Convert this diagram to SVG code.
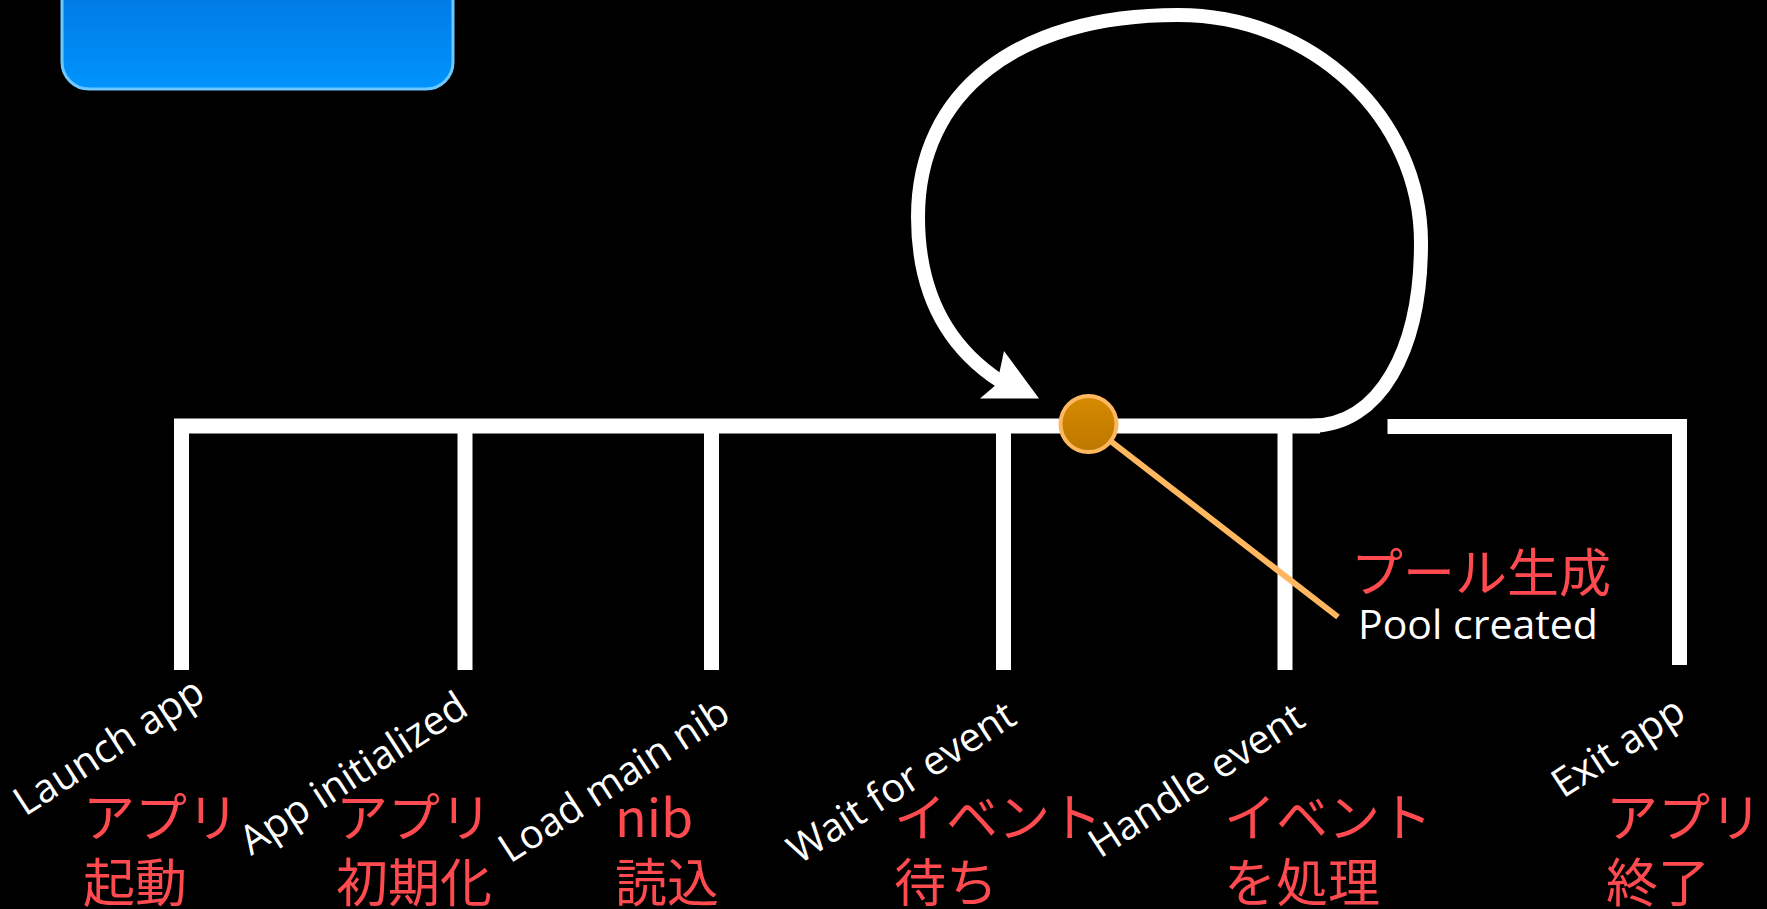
<svg xmlns="http://www.w3.org/2000/svg" width="1767" height="909" viewBox="0 0 1767 909">
  <defs>
    <linearGradient id="boxGrad" x1="0" y1="0" x2="0" y2="1">
      <stop offset="0" stop-color="#0070dc"/>
      <stop offset="1" stop-color="#0094fc"/>
    </linearGradient>
    <linearGradient id="dotGrad" x1="0" y1="0" x2="0" y2="1">
      <stop offset="0" stop-color="#d68a00"/>
      <stop offset="1" stop-color="#bd7800"/>
    </linearGradient>
    <style>
      .wline { fill: none; stroke: #ffffff; stroke-width: 15; stroke-linecap: butt; stroke-linejoin: miter; }
      .loop { fill: none; stroke: #ffffff; stroke-width: 14; stroke-linecap: butt; stroke-linejoin: round; }
      .step { font-family: "Open Sans", "Noto Sans", sans-serif; font-size: 40px; fill: #ffffff; }
      .ja { font-family: "Noto Sans CJK JP", "Noto Sans", sans-serif; font-size: 52px; fill: #ff4b50; }
      .note { font-family: "Open Sans", "Noto Sans", sans-serif; font-size: 41px; fill: #ffffff; }
    </style>
  </defs>

  <rect width="1767" height="909" fill="#000000"/>

  <g id="title-box">
    <rect x="62" y="-40" width="391" height="129" rx="27" ry="27" fill="url(#boxGrad)" stroke="#6cc8ff" stroke-width="3"/>
  </g>

  <g id="timeline">
    <path class="wline" d="M174,426 L1320,426"/>
    <path class="wline" d="M181.5,426 L181.5,670"/>
    <path class="wline" d="M465,426 L465,670"/>
    <path class="wline" d="M711.5,426 L711.5,670"/>
    <path class="wline" d="M1003.5,426 L1003.5,670"/>
    <path class="wline" d="M1285,426 L1285,670"/>
    <path class="wline" d="M1387.5,426.5 L1679.5,426.5 L1679.5,665"/>
  </g>

  <g id="connectors">
    <path id="event-loop" class="loop" d="M1310,426 C1380,426 1421,350 1421,243 C1421,117 1312,15 1178,15 C1017,15 918,92 918,217 C918,290 945,345 1000,381"/>
    <path id="loop-arrowhead" d="M1004,351 L1039,398.5 L980,398.5 L997,384 Z" fill="#ffffff"/>
    <line id="pool-leader" x1="1088.5" y1="424" x2="1338" y2="617" stroke="#ffb860" stroke-width="6"/>
  </g>

  <g id="pool-marker">
    <circle cx="1088.5" cy="424" r="28" fill="url(#dotGrad)" stroke="#ffb860" stroke-width="4"/>
  </g>

  <g id="pool-label">
    <text class="ja" x="1351" y="592">プール生成</text>
    <text class="note" x="1358" y="639">Pool created</text>
  </g>

  <g id="step-launch">
    <text class="step" transform="translate(25,817) rotate(-33)">Launch app</text>
    <text class="ja" x="83" y="837">アプリ</text>
    <text class="ja" x="83" y="902">起動</text>
  </g>
  <g id="step-init">
    <text class="step" transform="translate(251,856) rotate(-33)">App initialized</text>
    <text class="ja" x="336" y="837">アプリ</text>
    <text class="ja" x="336" y="902">初期化</text>
  </g>
  <g id="step-nib">
    <text class="step" transform="translate(510,864) rotate(-33)">Load main nib</text>
    <text class="ja" x="615" y="837">nib</text>
    <text class="ja" x="615" y="902">読込</text>
  </g>
  <g id="step-wait">
    <text class="step" transform="translate(799,865) rotate(-33)">Wait for event</text>
    <text class="ja" x="894" y="837">イベント</text>
    <text class="ja" x="894" y="902">待ち</text>
  </g>
  <g id="step-handle">
    <text class="step" transform="translate(1100,859) rotate(-33)">Handle event</text>
    <text class="ja" x="1224" y="837">イベント</text>
    <text class="ja" x="1224" y="902">を処理</text>
  </g>
  <g id="step-exit">
    <text class="step" transform="translate(1563,799) rotate(-33)">Exit app</text>
    <text class="ja" x="1606" y="837">アプリ</text>
    <text class="ja" x="1606" y="902">終了</text>
  </g>
</svg>
